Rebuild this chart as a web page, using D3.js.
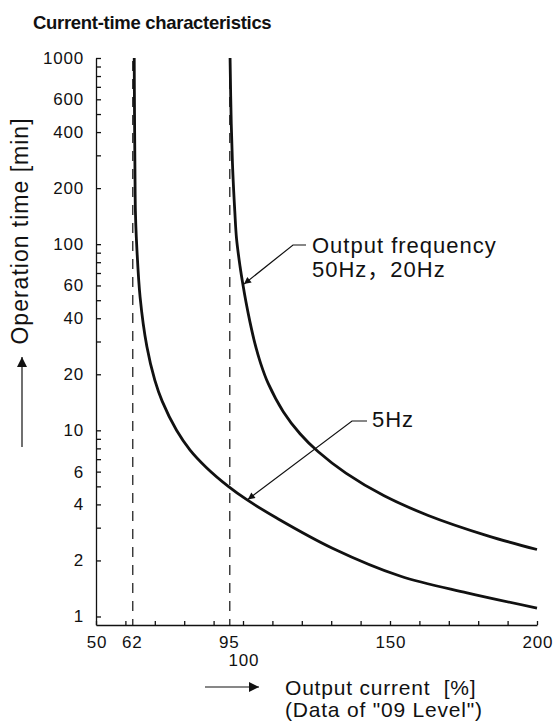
<!DOCTYPE html>
<html lang="en">
<head>
    <meta charset="utf-8">
    <script src="https://cdn.jsdelivr.net/npm/d3@7"></script>
    <style>
        body { margin: 0; background: #fff; }
        text { font-family: "Liberation Sans", Arial, "Noto Sans CJK JP", sans-serif; fill: #111; white-space: pre; }
    </style>
</head>
<body>
<div id="chart"></div>
<script>
    // values (output current %, operation time min)
    var curve50Hz = [[95.6, 1000], [96.0, 447], [96.5, 251], [97.2, 151], [97.8, 107], [99.0, 75.9],
        [100.0, 60.3], [101.0, 49.0], [102.4, 38.0], [104.0, 29.5], [106.0, 22.9], [108.6, 17.8],
        [113.7, 12.6], [119.4, 9.59], [125.6, 7.67], [135, 5.89], [148, 4.45], [163, 3.49],
        [183, 2.72], [200, 2.29]]
    var curve5Hz = [[63.0, 1000], [63.1, 500], [63.25, 251], [63.4, 151], [63.7, 110], [65, 52],
        [67.3, 28.2], [70, 18.6], [72.5, 14.35], [77.4, 10.0], [82, 7.83], [87.6, 6.30], [95, 5.00],
        [101.3, 4.24], [111.6, 3.37], [130.6, 2.32], [153.4, 1.65], [176.2, 1.34], [200, 1.11]]
    var yTickLabels = [1, 2, 4, 6, 10, 20, 40, 60, 100, 200, 400, 600, 1000]
    var xTickMarks = [50, 60, 70, 80, 90, 100, 110, 120, 130, 140, 150, 160, 170, 180, 190, 200]
    var xLabelsRow1 = [50, 62, 95, 150, 200]
    var xLabelsRow2 = [100]
    var dashedLines = [62, 95]
    var pointer50Hz = [100.0, 61]
    var pointer5Hz = [101.3, 4.2]

    var width = 555
        height = 723

    var svg = d3.select("#chart")
        .append("svg")
            .attr("width", width)
            .attr("height", height)

    var x = d3.scaleLinear().domain([50, 200]).range([96, 537])
    var y = d3.scaleLog().domain([0.9, 1000]).range([625, 58])

    var defs = svg.append("defs")
    defs.append("marker")
        .attr("id", "headSmall")
        .attr("markerUnits", "userSpaceOnUse")
        .attr("viewBox", "0 0 10 10")
        .attr("refX", 10).attr("refY", 5)
        .attr("markerWidth", 11).attr("markerHeight", 7)
        .attr("orient", "auto")
        .append("path").attr("d", "M0,0 L10,5 L0,10 Z").attr("fill", "#111")
    defs.append("marker")
        .attr("id", "headBig")
        .attr("markerUnits", "userSpaceOnUse")
        .attr("viewBox", "0 0 10 10")
        .attr("refX", 10).attr("refY", 5)
        .attr("markerWidth", 15).attr("markerHeight", 10)
        .attr("orient", "auto")
        .append("path").attr("d", "M0,0 L10,5 L0,10 Z").attr("fill", "#111")

    // title
    svg.append("text")
        .attr("x", 33).attr("y", 29)
        .style("font-size", "18.5px")
        .style("font-weight", "bold")
        .style("letter-spacing", "-0.3px")
        .text("Current-time characteristics")

    // y axis: inward ticks
    var yAxis = d3.axisLeft(y)
        .tickValues(y.ticks().filter(function(d) { return d >= 1 }))
        .tickSize(-5)
        .tickSizeOuter(0)
        .tickPadding(12)
        .tickFormat(function(d) { return yTickLabels.indexOf(d) >= 0 ? d : "" })
    var gy = svg.append("g")
        .attr("transform", "translate(96,0)")
        .call(yAxis)
    gy.selectAll("text").style("font-size", "17px").style("letter-spacing", "0.8px").attr("fill", "#111")
    gy.selectAll("line, path").attr("stroke", "#111").attr("stroke-width", 1.3)

    // x axis: inward ticks, labels drawn separately
    var xAxis = d3.axisBottom(x)
        .tickValues(xTickMarks)
        .tickSize(-4)
        .tickSizeOuter(0)
        .tickFormat("")
    var gx = svg.append("g")
        .attr("transform", "translate(0,625)")
        .call(xAxis)
    gx.selectAll("line, path").attr("stroke", "#111").attr("stroke-width", 1.3)

    svg.selectAll(".xlab1")
        .data(xLabelsRow1)
        .enter()
        .append("text")
            .attr("class", "xlab1")
            .attr("x", function(d) { return x(d) + 1 })
            .attr("y", 648)
            .attr("text-anchor", "middle")
            .style("font-size", "17px")
            .style("letter-spacing", "0.8px")
            .text(function(d) { return d })
    svg.selectAll(".xlab2")
        .data(xLabelsRow2)
        .enter()
        .append("text")
            .attr("class", "xlab2")
            .attr("x", function(d) { return x(d) + 1 })
            .attr("y", 666)
            .attr("text-anchor", "middle")
            .style("font-size", "17px")
            .style("letter-spacing", "0.8px")
            .text(function(d) { return d })

    // dashed asymptotes
    svg.selectAll(".dash")
        .data(dashedLines)
        .enter()
        .append("line")
            .attr("x1", function(d) { return x(d) + 1.5 })
            .attr("x2", function(d) { return x(d) + 1.5 })
            .attr("y1", y(1000) + 3)
            .attr("y2", 625)
            .attr("stroke", "#111")
            .attr("stroke-width", 1.2)
            .attr("stroke-dasharray", "10,8")

    // curves
    var line = d3.line()
        .x(function(d) { return x(d[0]) })
        .y(function(d) { return y(d[1]) })
        .curve(d3.curveCatmullRom.alpha(0.5))
    svg.selectAll(".curve")
        .data([curve50Hz, curve5Hz])
        .enter()
        .append("path")
            .attr("d", line)
            .attr("fill", "none")
            .attr("stroke", "#111")
            .attr("stroke-width", 2.8)

    // annotations
    var tip1 = [x(pointer50Hz[0]) + 1, y(pointer50Hz[1])]
    svg.append("path")
        .attr("d", "M306,245 L293,245 L" + tip1[0] + "," + tip1[1])
        .attr("fill", "none").attr("stroke", "#111").attr("stroke-width", 1.2)
        .attr("marker-end", "url(#headSmall)")
    svg.append("text")
        .attr("x", 312).attr("y", 253)
        .style("font-size", "22px").style("letter-spacing", "1px")
        .text("Output frequency")
    svg.append("text")
        .attr("x", 312).attr("y", 277)
        .style("font-size", "22px").style("letter-spacing", "1px")
        .text("50Hz，20Hz")

    var tip2 = [x(pointer5Hz[0]) + 1, y(pointer5Hz[1]) - 1]
    svg.append("path")
        .attr("d", "M367,421 L352,421 L" + tip2[0] + "," + tip2[1])
        .attr("fill", "none").attr("stroke", "#111").attr("stroke-width", 1.2)
        .attr("marker-end", "url(#headSmall)")
    svg.append("text")
        .attr("x", 372).attr("y", 427)
        .style("font-size", "22px").style("letter-spacing", "1px")
        .text("5Hz")

    // axis titles with arrows
    svg.append("text")
        .attr("transform", "translate(28,231) rotate(-90)")
        .attr("text-anchor", "middle")
        .style("font-size", "23px").style("letter-spacing", "1px")
        .text("Operation time [min]")
    svg.append("line")
        .attr("x1", 22).attr("y1", 447).attr("x2", 22).attr("y2", 357)
        .attr("stroke", "#111").attr("stroke-width", 1.2)
        .attr("marker-end", "url(#headBig)")

    svg.append("line")
        .attr("x1", 205).attr("y1", 687).attr("x2", 259).attr("y2", 687)
        .attr("stroke", "#111").attr("stroke-width", 1.2)
        .attr("marker-end", "url(#headBig)")
    svg.append("text")
        .attr("x", 285).attr("y", 695)
        .style("font-size", "21px").style("letter-spacing", "0.8px")
        .text("Output current  [%]")
    svg.append("text")
        .attr("x", 285).attr("y", 717)
        .style("font-size", "21px").style("letter-spacing", "0.8px")
        .text("(Data of \"09 Level\")")
</script>
</body>
</html>
